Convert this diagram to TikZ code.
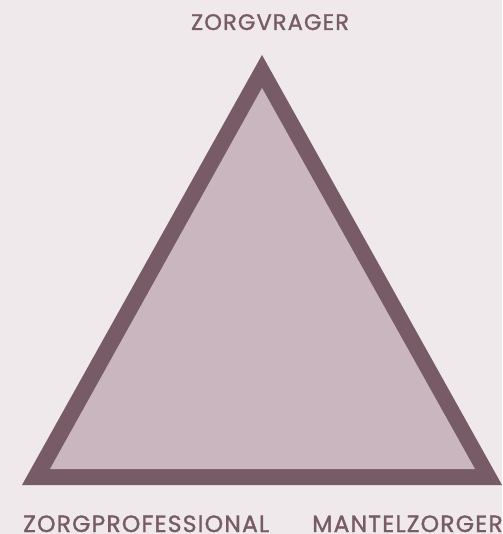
\documentclass[tikz,border=0pt]{standalone}
\usepackage{fontspec}
\newfontfamily\labelfont{Poppins}[LetterSpace=5,FakeBold=1.2]
\usepackage{xcolor}
\usetikzlibrary{positioning}
\definecolor{bgrose}{HTML}{EFE9EB}
\definecolor{darkmauve}{HTML}{775B66}
\definecolor{lightmauve}{HTML}{CAB6BF}
\tikzset{label/.style={text=darkmauve, font=\labelfont\fontsize{22.5}{22.5}\selectfont, inner sep=0pt},
  bottomlabel/.style={label, font=\labelfont\fontsize{23.5}{23.5}\selectfont, anchor=base west}}

\begin{document}
\begin{tikzpicture}[x=1pt,y=-1pt]
% background and size
\fill[bgrose] (0,0) rectangle (502,534);
\useasboundingbox (0,0) rectangle (502,534);

% triangle: dark border, light inside
\fill[darkmauve] (22,485) -- (262,55) -- (502,485) -- cycle;
\fill[lightmauve] (50,469) -- (262,88) -- (475,469) -- cycle;

\node[label, anchor=base] (top) at (270,30) {ZORGVRAGER};
\node[bottomlabel] (left) at (23,532) {ZORGPROFESSIONAL};
\node[bottomlabel] (right) at (312,532) {MANTELZORGER};
\end{tikzpicture}
\end{document}
